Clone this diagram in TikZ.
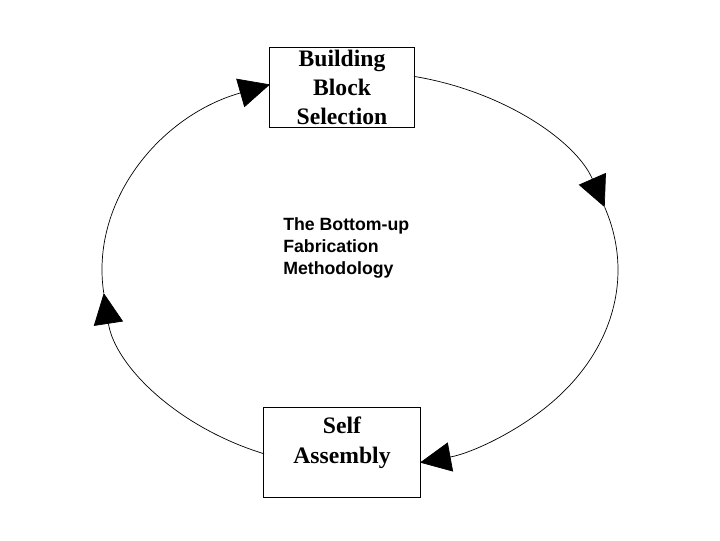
\documentclass[tikz,border=0pt]{standalone}
\usepackage{fontspec}
\setmainfont{Liberation Serif}
\setsansfont{Liberation Sans}
\usetikzlibrary{arrows.meta, calc}

\begin{document}
\begin{tikzpicture}[x=0.025cm, y=-0.025cm,
        blk/.style={draw, line width=0.7pt, inner sep=0pt, align=center,
            font=\bfseries\fontsize{16.8}{20.6}\selectfont},
        cyc/.style={line width=0.5pt, -{Triangle[length=22pt, width=21pt]}}]

    \useasboundingbox (0,0) rectangle (720,540);

    % Blocos
    \node[blk, minimum width=3.6cm, minimum height=2cm] (bb_sel) at (342, 87)
        {Building\\Block\\Selection};
    \node[blk, minimum width=3.9cm, minimum height=2.25cm,
        label={[anchor=north, align=center, inner sep=0pt, yshift=-7pt,
            font=\bfseries\fontsize{16.8}{21.8}\selectfont]north:Self\\Assembly}]
        (self_asm) at (342, 452) {};

    % Texto central
    \node[anchor=north west, align=left, inner sep=0pt,
        font=\sffamily\bfseries\fontsize{12.6}{15.8}\selectfont] (method) at (283, 217)
        {The Bottom-up\\Fabrication\\Methodology};

    % Coordenadas da elipse
    \coordinate (e_mid) at (360, 270);
    \coordinate (e_top_r) at ($(e_mid)+(-77.92:258 and 198)$);
    \coordinate (e_right) at ($(e_mid)+(-18.5:258 and 198)$);
    \coordinate (e_bot_l) at ($(e_mid)+(111.85:258 and 198)$);
    \coordinate (e_left) at ($(e_mid)+(173.3:258 and 198)$);

    % Ciclo
    \draw[cyc] (e_top_r) arc[start angle=-77.92, end angle=-18.5, x radius=258, y radius=198];
    \draw[cyc] (e_right) arc[start angle=-18.5, end angle=76.55, x radius=258, y radius=198];
    \draw[cyc] (e_bot_l) arc[start angle=111.85, end angle=173.3, x radius=258, y radius=198];
    \draw[cyc] (e_left) arc[start angle=173.3, end angle=249.58, x radius=258, y radius=198];

\end{tikzpicture}
\end{document}
